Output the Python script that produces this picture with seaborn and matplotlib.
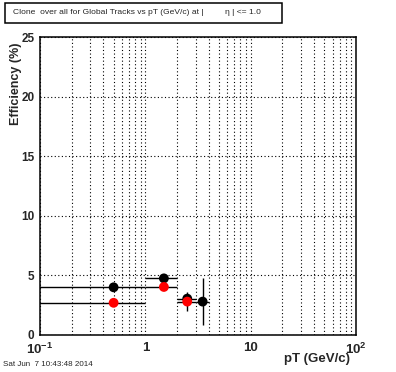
import matplotlib
matplotlib.use("Agg")
import matplotlib.pyplot as plt
from matplotlib.patches import Rectangle
from matplotlib.ticker import LogLocator, MultipleLocator, FixedLocator, NullFormatter
import pandas as pd
import seaborn as sns

# values
pt_bins = [0.5, 1.5, 2.5, 3.5]
pt_halfwidth = [0.5, 0.5, 0.5, 0.5]

black_eff = [4.0, 4.75, 3.05, 2.8]
black_err = [0.1, 0.1, 0.4, 2.0]

red_pt = [0.5, 1.5, 2.5]
red_halfwidth = [0.5, 0.5, 0.5]
red_eff = [2.7, 4.03, 2.8]
red_err = [0.1, 0.1, 0.8]

x_tick_vals = [0.1, 1, 10, 100]
x_tick_labels = ["$\\mathbf{10^{-1}}$", "1", "10", "$\\mathbf{10^{2}}$"]

sns.set_style("white")
plt.rcParams["font.family"] = ["Liberation Sans", "DejaVu Sans"]
plt.rcParams["mathtext.fontset"] = "custom"
plt.rcParams["mathtext.rm"] = "Liberation Sans"
plt.rcParams["mathtext.bf"] = "Liberation Sans:bold"

df = pd.DataFrame({
    "pt": pt_bins + red_pt,
    "eff": black_eff + red_eff,
    "set": ["all"] * len(pt_bins) + ["sel"] * len(red_pt),
})

fig = plt.figure(figsize=(3.96, 3.72), dpi=100)
ax = fig.add_axes([0.101, 0.0995, 0.798, 0.801])

ax.errorbar(pt_bins, black_eff, xerr=pt_halfwidth, yerr=black_err, fmt="none",
            ecolor="black", elinewidth=1.0, capsize=0, zorder=2)
sns.scatterplot(data=df[df["set"] == "all"], x="pt", y="eff", color="black",
                s=50, edgecolor="none", ax=ax, zorder=3, legend=False)
ax.errorbar(red_pt, red_eff, xerr=red_halfwidth, yerr=red_err, fmt="none",
            ecolor="black", elinewidth=1.0, capsize=0, zorder=4)
sns.scatterplot(data=df[df["set"] == "sel"], x="pt", y="eff", color="red",
                s=50, edgecolor="none", ax=ax, zorder=5, legend=False)

ax.set_xscale("log")
ax.set_xlim(0.1, 100)
ax.set_ylim(0, 25)

ax.xaxis.set_major_locator(FixedLocator(x_tick_vals))
ax.set_xticklabels(x_tick_labels)
ax.xaxis.set_minor_locator(LogLocator(base=10, subs=range(2, 10)))
ax.xaxis.set_minor_formatter(NullFormatter())
ax.yaxis.set_major_locator(MultipleLocator(5))
ax.yaxis.set_minor_locator(MultipleLocator(1))

ax.grid(True, which="both", axis="x", color="black", linestyle=(0, (1, 2.2)), linewidth=0.8)
ax.grid(True, which="major", axis="y", color="black", linestyle=(0, (1, 2.2)), linewidth=0.8)
ax.set_axisbelow(True)

ax.tick_params(which="both", direction="in", top=False, right=False,
               color="black", width=0.8)
ax.tick_params(which="major", length=6.5)
ax.tick_params(which="minor", length=3.2)
ax.tick_params(axis="y", labelsize=8.5, pad=4)
ax.tick_params(axis="x", labelsize=9.5, pad=5)
for lab in ax.get_xticklabels() + ax.get_yticklabels():
    lab.set_fontweight("bold")

for sp in ax.spines.values():
    sp.set_color("black")
    sp.set_linewidth(1.1)

ax.set_xlabel("")
ax.set_ylabel("")
fig.text(0.884, 0.036, "pT (GeV/c)", ha="right", va="center", fontsize=9.5, fontweight="bold")
fig.text(0.040, 0.885, "Efficiency (%)", ha="center", va="top", rotation=90,
         fontsize=9, fontweight="bold")

# title box
fig.patches.append(Rectangle((5 / 396, 1 - 22.5 / 372), 277 / 396, 19.5 / 372,
                             transform=fig.transFigure, fill=False,
                             edgecolor="black", linewidth=1.1))
fig.text(13 / 396, 1 - 12.5 / 372, "Clone  over all for Global Tracks vs pT (GeV/c) at |",
         ha="left", va="center", fontsize=6.1)
fig.text(225 / 396, 1 - 12.5 / 372, "\u03b7 | <= 1.0", ha="left", va="center", fontsize=6.1)

fig.text(3 / 396, 1 - 365 / 372, "Sat Jun  7 10:43:48 2014", ha="left", va="center",
         fontsize=5.8)

fig.savefig("out.png", dpi=100)
